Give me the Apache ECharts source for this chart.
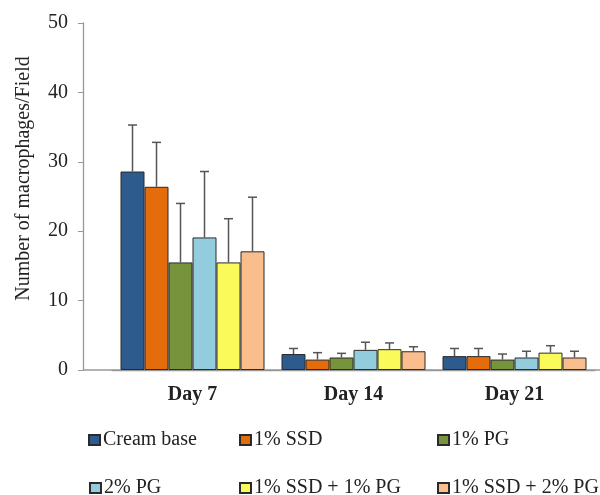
<!DOCTYPE html>
<html>
<head>
<meta charset="utf-8">
<script src="https://cdn.jsdelivr.net/npm/echarts@6/dist/echarts.min.js"></script>
<style>html,body{margin:0;padding:0;background:#fff}#c{width:600px;height:495px}</style>
</head>
<body>
<div id="c"></div>
<script>
const categories = ['Day 7', 'Day 14', 'Day 21'];
const seriesNames = ['Cream base', '1% SSD', '1% PG', '2% PG', '1% SSD + 1% PG', '1% SSD + 2% PG'];
const creamBase = [28.6, 2.3, 2.0];
const ssd1 = [26.4, 1.5, 2.0];
const pg1 = [15.5, 1.8, 1.5];
const pg2 = [19.1, 2.9, 1.8];
const ssd1pg1 = [15.5, 3.0, 2.5];
const ssd1pg2 = [17.1, 2.7, 1.8];
const errCreamBase = [6.7, 0.8, 1.1];
const errSsd1 = [6.4, 1.0, 1.1];
const errPg1 = [8.5, 0.6, 0.8];
const errPg2 = [9.5, 1.1, 0.9];
const errSsd1pg1 = [6.3, 0.9, 1.0];
const errSsd1pg2 = [7.8, 0.65, 0.9];
const yTicks = [0, 10, 20, 30, 40, 50];

const means = [creamBase, ssd1, pg1, pg2, ssd1pg1, ssd1pg2];
const errs = [errCreamBase, errSsd1, errPg1, errPg2, errSsd1pg1, errSsd1pg2];
const colors = ['#2D5B8E', '#E46C0A', '#77933C', '#93CDDD', '#FAFA5A', '#F9BE8C'];
const serif = '"Liberation Serif", "Times New Roman", serif';
const BAR_W = 24;

const chart = echarts.init(document.getElementById('c'), null, {renderer: 'canvas'});

const barSeries = seriesNames.map((n, i) => ({
  name: n, type: 'bar', data: means[i], barWidth: BAR_W, barGap: '0%',
  itemStyle: {color: colors[i], borderColor: '#2a2a2a', borderWidth: 1},
  z: 2
}));

const errData = [];
means.forEach((arr, s) => arr.forEach((v, c) => errData.push([c, s, v, v + errs[s][c]])));

const errSeries = {
  type: 'custom', data: errData, z: 5, silent: true,
  encode: {x: 0, y: 3},
  renderItem: function (params, api) {
    const c = api.value(0), s = api.value(1);
    const base = api.coord([c, api.value(2)]);
    const top = api.coord([c, api.value(3)]);
    const x = base[0] + (s - 2.5) * BAR_W;
    const st = {stroke: '#555', lineWidth: 1.5};
    return {type: 'group', children: [
      {type: 'line', shape: {x1: x, y1: base[1], x2: x, y2: top[1]}, style: st},
      {type: 'line', shape: {x1: x - 4.5, y1: top[1], x2: x + 4.5, y2: top[1]}, style: st}
    ]};
  }
};

const legendPos = [[88, 430], [239, 430], [437, 430], [89, 478], [239, 478], [437, 478]];
const legends = seriesNames.map((n, i) => ({
  data: [n], left: legendPos[i][0], top: legendPos[i][1], padding: 0,
  icon: 'rect', itemWidth: 11, itemHeight: 10, itemGap: 0,
  textStyle: {fontFamily: serif, fontSize: 20, color: '#222', padding: [0, 0, 0, -2]},
  selectedMode: false
}));

chart.setOption({
  animation: false,
  backgroundColor: '#fff',
  grid: {left: 112, right: 5, top: 23, bottom: 125, containLabel: false},
  legend: legends,
  xAxis: {
    type: 'category', data: categories,
    axisLine: {lineStyle: {color: '#999', width: 1.3}},
    axisTick: {show: false},
    axisLabel: {fontFamily: serif, fontWeight: 'bold', fontSize: 20, color: '#222', margin: 15}
  },
  yAxis: {
    type: 'value', min: yTicks[0], max: yTicks[yTicks.length - 1], interval: 10,
    offset: 29,
    name: 'Number of macrophages/Field', nameLocation: 'middle', nameGap: 49,
    nameTextStyle: {fontFamily: serif, fontSize: 20, color: '#222', padding: [0, 0, 0, 36]},
    axisLine: {show: true, lineStyle: {color: '#999', width: 1.3}},
    axisTick: {show: true, inside: false, length: 5, lineStyle: {color: '#999'}},
    splitLine: {show: false},
    axisLabel: {fontFamily: serif, fontSize: 20, color: '#222', margin: 15}
  },
  graphic: [{type: 'line', shape: {x1: 83, y1: 370, x2: 600, y2: 370}, style: {stroke: '#999', lineWidth: 1.3}, z: 1}],
  series: barSeries.concat([errSeries])
});
</script>
</body>
</html>
